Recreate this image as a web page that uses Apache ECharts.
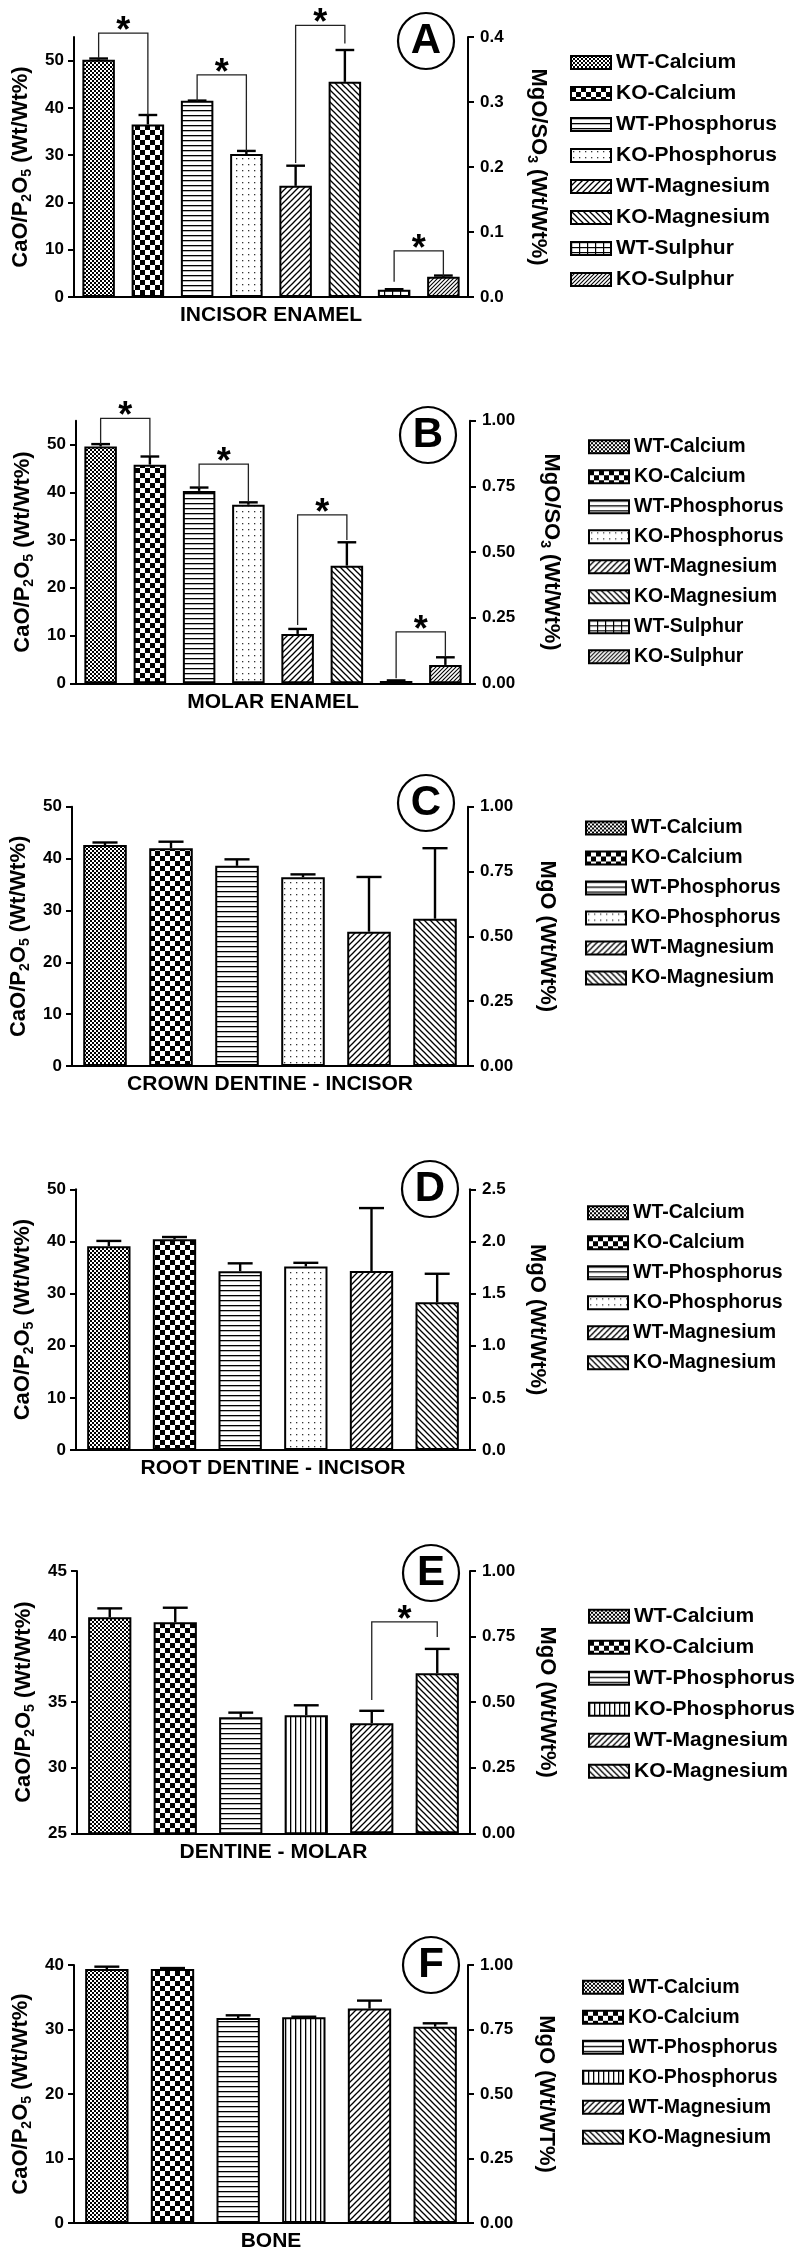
<!DOCTYPE html>
<html>
<head>
<meta charset="utf-8">
<script src="https://cdn.jsdelivr.net/npm/echarts@6/dist/echarts.min.js"></script>
<style>
    html, body { margin: 0; padding: 0; background: #fff; }
    #wrap { position: relative; width: 800px; height: 2257px; }
    .panel { position: absolute; left: 0; width: 800px; }
</style>
</head>
<body>
<div id="wrap"></div>
<script>
const FONT = "'Liberation Sans', Arial, sans-serif";

const names8 = ['WT-Calcium', 'KO-Calcium', 'WT-Phosphorus', 'KO-Phosphorus',
    'WT-Magnesium', 'KO-Magnesium', 'WT-Sulphur', 'KO-Sulphur'];
const names6 = names8.slice(0, 6);

// A - incisor enamel (index 4.. on the right axis)
const incisorEnamelMean = [50.2, 36.5, 41.5, 30.25, 0.171, 0.331, 0.011, 0.031];
const incisorEnamelErr = [0.25, 2.0, 0.05, 0.65, 0.031, 0.049, 0.001, 0.002];
// [bar i, bar j, bracket top, left leg end, right leg end]
const incisorEnamelSig = [[0, 1, 55.8, 50.5, 38.5], [2, 3, 47.0, 41.5, 30.9],
    [4, 5, 0.418, 0.206, 0.390], [6, 7, 0.071, 0.0235, 0.032]];

// B - molar enamel
const molarEnamelMean = [49.6, 45.8, 40.3, 37.4, 0.188, 0.448, 0.009, 0.070];
const molarEnamelErr = [0.5, 1.7, 0.7, 0.5, 0.019, 0.089, 0.002, 0.029];
const molarEnamelSig = [[0, 1, 55.5, 50.1, 47.6], [2, 3, 45.9, 40.9, 38.0],
    [4, 5, 0.641, 0.222, 0.546], [6, 7, 0.196, 0.019, 0.101]];

// C - crown dentine incisor
const crownDentineMean = [42.6, 42.0, 38.6, 36.4, 0.518, 0.568];
const crownDentineErr = [0.5, 1.25, 1.25, 0.55, 0.211, 0.272];

// D - root dentine incisor
const rootDentineMean = [39.1, 40.4, 34.3, 35.2, 1.716, 1.416];
const rootDentineErr = [1.0, 0.45, 1.5, 0.7, 0.604, 0.274];

// E - dentine molar
const dentineMolarMean = [41.47, 41.09, 33.84, 34.0, 0.42, 0.61];
const dentineMolarErr = [0.68, 1.11, 0.36, 0.76, 0.047, 0.093];
const dentineMolarSig = [[4, 5, 0.806, 0.508, 0.748]];

// F - bone
const boneMean = [39.38, 39.38, 31.78, 31.88, 0.831, 0.761];
const boneErr = [0.36, 0.15, 0.42, 0.1, 0.031, 0.013];

const ticks0to50 = [0, 10, 20, 30, 40, 50];
const ticks0to40 = [0, 10, 20, 30, 40];
const ticks25to45 = [25, 30, 35, 40, 45];
const ticksQuarter = [0, 0.25, 0.5, 0.75, 1];
const ticksTenth = [0, 0.1, 0.2, 0.3, 0.4];
const ticksHalf = [0, 0.5, 1, 1.5, 2, 2.5];

// pattern tiles
function tile(w, h, draw) {
    const c = document.createElement('canvas');
    c.width = w;
    c.height = h;
    const g = c.getContext('2d');
    g.fillStyle = '#fff';
    g.fillRect(0, 0, w, h);
    g.fillStyle = '#000';
    g.strokeStyle = '#000';
    draw(g, w, h);
    return { image: c, repeat: 'repeat' };
}
function diag(g, s, up, lw) {
    g.lineWidth = lw;
    const seg = up
        ? [[-1, 1, 1, -1], [0, s, s, 0], [s - 1, s + 1, s + 1, s - 1]]
        : [[-1, s - 1, 1, s + 1], [0, 0, s, s], [s - 1, -1, s + 1, 1]];
    seg.forEach(l => {
        g.beginPath();
        g.moveTo(l[0], l[1]);
        g.lineTo(l[2], l[3]);
        g.stroke();
    });
}
const fill = {
    fineCheck: tile(4, 4, g => { g.fillRect(0, 0, 2, 2); g.fillRect(2, 2, 2, 2); }),
    coarseCheck: tile(10, 10, g => { g.fillRect(0, 0, 5, 5); g.fillRect(5, 5, 5, 5); }),
    hLines: tile(4, 5, g => g.fillRect(0, 0, 4, 1.3)),
    vLines: tile(5, 4, g => g.fillRect(0, 0, 1.3, 4)),
    dots: tile(6, 6, g => { g.fillStyle = '#333'; g.fillRect(2, 2, 1.3, 1.3); }),
    diagUp: tile(6, 6, g => diag(g, 6, true, 1.3)),
    diagDown: tile(6, 6, g => diag(g, 6, false, 1.3)),
    grid: tile(8, 5, g => { g.fillRect(0, 0, 8, 1.2); g.fillRect(0, 0, 1.2, 5); }),
    diagDense: tile(4, 4, g => diag(g, 4, true, 1.1))
};
const fillsAD = [fill.fineCheck, fill.coarseCheck, fill.hLines, fill.dots,
    fill.diagUp, fill.diagDown, fill.grid, fill.diagDense];
const fillsEF = [fill.fineCheck, fill.coarseCheck, fill.hLines, fill.vLines,
    fill.diagUp, fill.diagDown];

const leftName = '{n|CaO/P}{s|2}{n|O}{s|5}{n| (Wt/Wt%)}';
const mgsName = '{n|MgO/SO}{s|3}{n| (Wt/Wt%)}';

const panels = [
    { letter: 'A', top: 0, h: 383, title: 'INCISOR ENAMEL', names: names8, fills: fillsAD,
      mean: incisorEnamelMean, err: incisorEnamelErr, sig: incisorEnamelSig,
      grid: [74, 332, 37, 260], left: [0, 55, ticks0to50], right: [0, 0.4, ticksTenth, 1],
      rightName: mgsName, rightGap: 57, circle: [426, 41], legend: [565, 47, 21] },
    { letter: 'B', top: 383, h: 383, title: 'MOLAR ENAMEL', names: names8, fills: fillsAD,
      mean: molarEnamelMean, err: molarEnamelErr, sig: molarEnamelSig,
      grid: [76, 330, 37.7, 262.6], left: [0, 55, ticks0to50], right: [0, 1, ticksQuarter, 2],
      rightName: mgsName, rightGap: 68, circle: [428, 52], legend: [583, 48.7, 19.5] },
    { letter: 'C', top: 766, h: 384, title: 'CROWN DENTINE - INCISOR', names: names6, fills: fillsAD,
      mean: crownDentineMean, err: crownDentineErr, sig: [],
      grid: [72, 332, 40.7, 259.3], left: [0, 50, ticks0to50], right: [0, 1, ticksQuarter, 2],
      rightName: '{n|MgO (Wt/Wt%)}', rightGap: 66, circle: [426, 37], legend: [580, 47, 19.5] },
    { letter: 'D', top: 1150, h: 383, title: 'ROOT DENTINE - INCISOR', names: names6, fills: fillsAD,
      mean: rootDentineMean, err: rootDentineErr, sig: [],
      grid: [76, 330, 39.3, 260.7], left: [0, 50, ticks0to50], right: [0, 2.5, ticksHalf, 1],
      rightName: '{n|MgO (Wt/Wt%)}', rightGap: 54, circle: [430, 39], legend: [582, 47.7, 19.5] },
    { letter: 'E', top: 1533, h: 383, title: 'DENTINE - MOLAR', names: names6, fills: fillsEF,
      mean: dentineMolarMean, err: dentineMolarErr, sig: dentineMolarSig,
      grid: [77, 330, 38, 262.3], left: [25, 45, ticks25to45], right: [0, 1, ticksQuarter, 2],
      rightName: '{n|MgO (Wt/Wt%)}', rightGap: 64, circle: [431, 40], legend: [583, 67.7, 21] },
    { letter: 'F', top: 1916, h: 341, title: 'BONE', names: names6, fills: fillsEF,
      mean: boneMean, err: boneErr, sig: [],
      grid: [74, 332, 49, 258.3], left: [0, 40, ticks0to40], right: [0, 1, ticksQuarter, 2],
      rightName: '{n|MgO (Wt/WT%)}', rightGap: 65, circle: [431, 49], legend: [577, 56.3, 19.5] }
];

const nameRich = {
    n: { fontSize: 22, fontWeight: 'bold', fontFamily: FONT, color: '#000', lineHeight: 26 },
    s: { fontSize: 14, fontWeight: 'bold', fontFamily: FONT, color: '#000', lineHeight: 14, verticalAlign: 'bottom' }
};

function renderErr(params, api) {
    const i = api.value(0);
    const a = api.coord([i, api.value(1)]);
    const b = api.coord([i, api.value(2)]);
    const half = api.size([1, 0])[0] * 0.19;
    const st = { stroke: '#000', lineWidth: 2.4 };
    return {
        type: 'group',
        children: [
            { type: 'line', shape: { x1: a[0], y1: a[1], x2: b[0], y2: b[1] }, style: st },
            { type: 'line', shape: { x1: b[0] - half, y1: b[1], x2: b[0] + half, y2: b[1] }, style: st }
        ]
    };
}

function renderSig(params, api) {
    const i = api.value(0), j = api.value(1);
    const top = api.coord([i, api.value(2)])[1];
    const l = api.coord([i, api.value(3)]);
    const r = api.coord([j, api.value(4)]);
    const mx = (l[0] + r[0]) / 2;
    return {
        type: 'group',
        children: [
            { type: 'polyline',
              shape: { points: [[l[0], l[1]], [l[0], top], [r[0], top], [r[0], r[1]]] },
              style: { stroke: '#222', lineWidth: 1.3, fill: null } },
            { type: 'text',
              style: { text: '*', x: mx, y: top - 1, font: 'bold 36px ' + FONT, fill: '#000',
                       textAlign: 'center', textVerticalAlign: 'middle', align: 'center', verticalAlign: 'middle' } }
        ]
    };
}

function buildOption(p) {
    const n = p.names.length;
    const onRight = i => i >= 4;
    const series = p.names.map((name, k) => ({
        name: name,
        type: 'bar',
        yAxisIndex: onRight(k) ? 1 : 0,
        barWidth: '66%',
        barGap: '-100%',
        itemStyle: { color: p.fills[k], borderColor: '#000', borderWidth: 2 },
        data: p.mean.map((v, i) => (i === k ? v : '-'))
    }));
    [0, 1].forEach(ax => {
        const errData = [];
        p.mean.forEach((v, i) => {
            if ((ax === 1) === onRight(i)) errData.push([i, v, v + p.err[i]]);
        });
        series.push({
            type: 'custom', yAxisIndex: ax, renderItem: renderErr, clip: false, z: 5,
            encode: { x: 0, y: [1, 2] }, data: errData
        });
        const sigData = p.sig.filter(s => (ax === 1) === onRight(s[0]));
        if (sigData.length) {
            series.push({
                type: 'custom', yAxisIndex: ax, renderItem: renderSig, clip: false, z: 6,
                encode: { x: [0, 1], y: [2, 3, 4] }, data: sigData
            });
        }
    });

    const axisLine = { show: true, lineStyle: { color: '#000', width: 2 } };
    const tickLabel = { fontSize: 17, fontWeight: 'bold', fontFamily: FONT, color: '#000' };

    return {
        animation: false,
        backgroundColor: '#fff',
        grid: { left: p.grid[0], right: p.grid[1], top: p.grid[2], height: p.grid[3] },
        legend: {
            orient: 'vertical',
            left: p.legend[0],
            top: p.legend[1],
            itemWidth: 40,
            itemHeight: 13,
            itemGap: 10,
            icon: 'rect',
            selectedMode: false,
            data: p.names,
            itemStyle: { borderColor: '#000', borderWidth: 2 },
            textStyle: { fontSize: p.legend[2], fontWeight: 'bold', fontFamily: FONT, color: '#000', lineHeight: 20 }
        },
        xAxis: {
            type: 'category',
            data: p.names,
            axisLine: axisLine,
            axisTick: { show: false },
            axisLabel: { show: false },
            name: p.title,
            nameLocation: 'middle',
            nameGap: 8,
            nameTextStyle: { fontSize: 21, fontWeight: 'bold', fontFamily: FONT, color: '#000' }
        },
        yAxis: [
            {
                type: 'value', position: 'left',
                min: p.left[0], max: p.left[1],
                axisLine: axisLine,
                axisTick: { show: true, length: 6, lineStyle: { color: '#000', width: 2 }, customValues: p.left[2] },
                axisLabel: Object.assign({ margin: 10, customValues: p.left[2] }, tickLabel),
                splitLine: { show: false },
                name: leftName, nameLocation: 'middle', nameRotate: 90, nameGap: 40,
                nameTextStyle: { rich: nameRich }
            },
            {
                type: 'value', position: 'right',
                min: p.right[0], max: p.right[1],
                axisLine: axisLine,
                axisTick: { show: true, length: 6, lineStyle: { color: '#000', width: 2 }, customValues: p.right[2] },
                axisLabel: Object.assign({
                    margin: 12, customValues: p.right[2],
                    formatter: v => v.toFixed(p.right[3])
                }, tickLabel),
                splitLine: { show: false },
                name: p.rightName, nameLocation: 'middle', nameRotate: -90, nameGap: p.rightGap,
                nameTextStyle: { rich: nameRich }
            }
        ],
        graphic: [
            { type: 'circle', shape: { cx: p.circle[0], cy: p.circle[1], r: 28 },
              style: { fill: '#fff', stroke: '#000', lineWidth: 2.2 }, z: 10 },
            { type: 'text', x: p.circle[0], y: p.circle[1], z: 11,
              style: { text: p.letter, font: 'bold 42px ' + FONT, fill: '#000',
                       textAlign: 'center', textVerticalAlign: 'middle', align: 'center', verticalAlign: 'middle' } }
        ],
        series: series
    };
}

const wrap = document.getElementById('wrap');
panels.forEach(p => {
    const div = document.createElement('div');
    div.className = 'panel';
    div.style.top = p.top + 'px';
    div.style.height = p.h + 'px';
    wrap.appendChild(div);
    const chart = echarts.init(div, null, { renderer: 'canvas' });
    chart.setOption(buildOption(p));
});
</script>
</body>
</html>
